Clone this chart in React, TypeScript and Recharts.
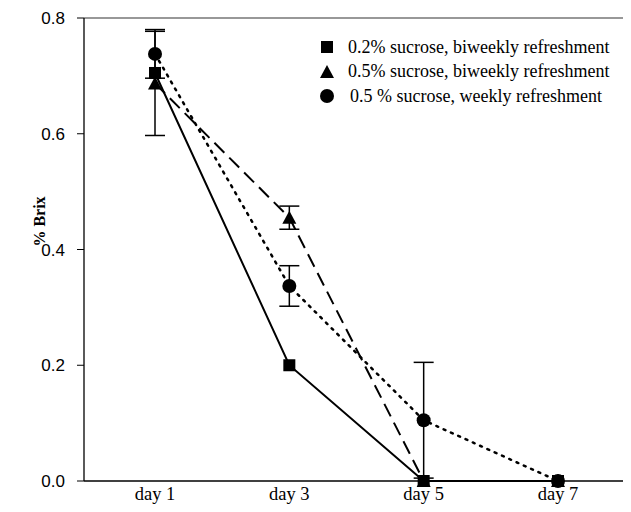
import { LineChart, Line, XAxis, YAxis, ErrorBar, ReferenceLine } from 'recharts'

// ─── Data ──────────────────────────────────────────────────────────────────────

const days = ['day 1', 'day 3', 'day 5', 'day 7']
const sucrose02Biweekly = [0.705, 0.2, 0, 0]
const sucrose05Biweekly = [0.687, 0.455, 0, 0]
const sucrose05BiweeklyErr = [0.09, 0.02, 0, 0]
const sucrose05Weekly = [0.738, 0.337, 0.105, 0]
const sucrose05WeeklyErr = [0.042, 0.035, 0.1, 0]
const yTicks = [0, 0.2, 0.4, 0.6, 0.8]
const seriesNames = [
  '0.2% sucrose, biweekly refreshment',
  '0.5% sucrose, biweekly refreshment',
  '0.5 % sucrose, weekly refreshment',
]

const data = days.map((day, i) => ({
  day,
  a: sucrose02Biweekly[i],
  b: sucrose05Biweekly[i],
  bErr: sucrose05BiweeklyErr[i],
  c: sucrose05Weekly[i],
  cErr: sucrose05WeeklyErr[i],
}))

// ─── Markers ───────────────────────────────────────────────────────────────────

const SquareDot = (p: any) => (
  <rect key={p.index} x={p.cx - 6} y={p.cy - 6} width={12} height={12} fill="#000" />
)
const TriangleDot = (p: any) => (
  <path
    key={p.index}
    d={`M${p.cx},${p.cy - 7} L${p.cx + 7},${p.cy + 6} L${p.cx - 7},${p.cy + 6} Z`}
    fill="#000"
  />
)
const CircleDot = (p: any) => <circle key={p.index} cx={p.cx} cy={p.cy} r={7} fill="#000" />

const LegendBox = () => {
  const markers = [
    <rect x={1} y={1} width={12} height={12} fill="#000" />,
    <path d="M7,0 L14,13 L0,13 Z" fill="#000" />,
    <circle cx={7} cy={7} r={7} fill="#000" />,
  ]
  return (
    <div
      style={{
        position: 'absolute',
        top: 27,
        left: 312,
        fontFamily: '"Liberation Serif", "Times New Roman", serif',
        fontSize: 18,
        whiteSpace: 'nowrap',
      }}
    >
      {seriesNames.map((name, i) => (
        <div key={name} style={{ display: 'flex', alignItems: 'center', height: 24.5 }}>
          <svg width={14} height={14} style={{ marginRight: 14 }}>
            {markers[i]}
          </svg>
          <span style={{ marginLeft: i === 2 ? 2 : 0 }}>{name}</span>
        </div>
      ))}
    </div>
  )
}

// ─── Chart ─────────────────────────────────────────────────────────────────────

export default function App() {
  return (
    <div style={{ position: 'relative', width: 623, height: 504 }}>
      <LineChart width={623} height={504} data={data} margin={{ top: 10, right: 0, bottom: 0, left: 0 }}>
        <XAxis
          dataKey="day"
          height={31}
          padding={{ left: 71, right: 73 }}
          tickLine={false}
          tickSize={4}
          tickMargin={2}
          axisLine={{ stroke: '#000', strokeWidth: 1.3 }}
          tick={{ fill: '#000', fontSize: 18.5, fontFamily: '"Liberation Serif", serif' }}
        />
        <YAxis
          width={76}
          domain={[0, 0.8]}
          ticks={yTicks}
          tickFormatter={(v: number) => v.toFixed(1)}
          tickSize={7}
          tickMargin={12}
          tickLine={{ stroke: '#000' }}
          axisLine={{ stroke: '#000', strokeWidth: 1.3 }}
          tick={{ fill: '#000', fontSize: 17, fontFamily: '"Liberation Sans", Arial, sans-serif' }}
          label={{
            content: (props: any) => {
              const vb = props.viewBox
              const x = vb.x + 31
              const y = vb.y + vb.height / 2 - 28
              return (
                <text
                  x={x}
                  y={y}
                  transform={`rotate(-90, ${x}, ${y})`}
                  textAnchor="middle"
                  dominantBaseline="central"
                  fontFamily='"Liberation Serif", serif'
                  fontWeight="bold"
                  fontSize={16}
                  fill="#000"
                >
                  % Brix
                </text>
              )
            },
          }}
        />
        <ReferenceLine y={0.8} stroke="#333" strokeWidth={1.2} />
        <Line
          dataKey="a"
          name={seriesNames[0]}
          stroke="#000"
          strokeWidth={2}
          dot={SquareDot}
          activeDot={false}
          isAnimationActive={false}
        />
        <Line
          dataKey="b"
          name={seriesNames[1]}
          stroke="#000"
          strokeWidth={2}
          strokeDasharray="14 7"
          dot={TriangleDot}
          activeDot={false}
          isAnimationActive={false}
        >
          <ErrorBar dataKey="bErr" width={10} stroke="#000" strokeWidth={1.5} direction="y" />
        </Line>
        <Line
          dataKey="c"
          name={seriesNames[2]}
          stroke="#000"
          strokeWidth={2.5}
          strokeDasharray="2 6"
          strokeLinecap="round"
          dot={CircleDot}
          activeDot={false}
          isAnimationActive={false}
        >
          <ErrorBar dataKey="cErr" width={10} stroke="#000" strokeWidth={1.5} direction="y" />
        </Line>
      </LineChart>
      <LegendBox />
    </div>
  )
}
